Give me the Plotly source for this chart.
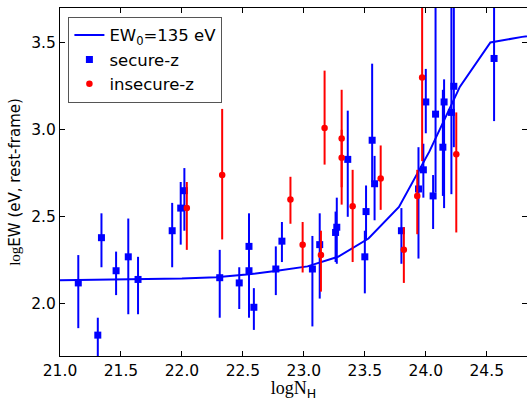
import plotly.graph_objects as go

# Model curve (EW0 = 135 eV)
model_x = [21.0, 21.5, 22.0, 22.28, 22.53, 22.78, 23.03, 23.28, 23.53, 23.78, 24.03, 24.28, 24.53, 24.79, 25.04]
model_y = [2.135, 2.138, 2.145, 2.153, 2.168, 2.19, 2.215, 2.27, 2.375, 2.557, 2.876, 3.248, 3.502, 3.534, 3.56]

# secure-z (blue squares)
sec_x = [21.15, 21.31, 21.34, 21.46, 21.56, 21.64, 21.92, 21.99, 22.02, 22.31,
         22.47, 22.55, 22.55, 22.59, 22.77, 22.82, 23.07, 23.13, 23.26, 23.27,
         23.36, 23.51, 23.50, 23.56, 23.58, 23.80, 23.94, 23.98, 24.00, 24.06,
         24.08, 24.14, 24.15, 24.21, 24.23, 24.56]
sec_y = [2.12, 1.82, 2.38, 2.19, 2.27, 2.14, 2.42, 2.55, 2.65, 2.15,
         2.12, 2.33, 2.19, 1.98, 2.20, 2.36, 2.20, 2.34, 2.41, 2.44,
         2.83, 2.53, 2.27, 2.94, 2.69, 2.42, 2.66, 2.77, 3.16, 2.62,
         3.09, 2.90, 3.16, 3.10, 3.25, 3.41]
sec_up = [0.16, 0.10, 0.14, 0.11, 0.22, 0.13, 0.16, 0.15, 0.13, 0.16,
          0.09, 0.19, 0.14, 0.11, 0.13, 0.11, 0.19, 0.18, 0.12, 0.17,
          0.28, 0.15, 0.15, 0.44, 0.16, 0.13, 0.24, 0.15, 0.19, 0.12,
          0.70, 0.33, 0.13, 0.70, 0.60, 0.45]
sec_lo = [0.26, 0.16, 0.17, 0.14, 0.33, 0.20, 0.21, 0.21, 0.23, 0.23,
          0.15, 0.23, 0.27, 0.13, 0.15, 0.12, 0.33, 0.31, 0.17, 0.21,
          0.33, 0.16, 0.21, 0.24, 0.21, 0.19, 0.40, 0.16, 0.18, 0.19,
          0.45, 0.28, 0.61, 0.47, 0.35, 0.36]

# insecure-z (red circles)
ins_x = [22.04, 22.33, 22.89, 22.99, 23.14, 23.17, 23.31, 23.31, 23.40, 23.63,
         23.82, 23.93, 23.97, 24.25]
ins_y = [2.55, 2.74, 2.60, 2.34, 2.28, 3.01, 2.95, 2.84, 2.56, 2.72,
         2.31, 2.62, 3.30, 2.86]
ins_up = [0.15, 0.38, 0.13, 0.13, 0.14, 0.33, 0.28, 0.16, 0.21, 0.19,
          0.13, 0.15, 0.50, 0.24]
ins_lo = [0.24, 0.37, 0.14, 0.16, 0.21, 0.21, 0.28, 0.27, 0.32, 0.18,
          0.19, 0.22, 0.48, 0.45]

BLUE = "#0000ff"
RED = "#ff0000"

fig = go.Figure()
fig.add_trace(go.Scatter(
    x=model_x, y=model_y, mode="lines",
    line=dict(color=BLUE, width=2),
    name="EW<sub>0</sub>=135 eV"))
fig.add_trace(go.Scatter(
    x=sec_x, y=sec_y, mode="markers",
    marker=dict(symbol="square", size=7, color=BLUE),
    error_y=dict(type="data", symmetric=False, array=sec_up, arrayminus=sec_lo,
                 color=BLUE, thickness=2, width=0),
    name="secure-z"))
fig.add_trace(go.Scatter(
    x=ins_x, y=ins_y, mode="markers",
    marker=dict(symbol="circle", size=6.5, color=RED),
    error_y=dict(type="data", symmetric=False, array=ins_up, arrayminus=ins_lo,
                 color=RED, thickness=2, width=0),
    name="insecure-z"))

axis_common = dict(
    showline=True, linecolor="black", linewidth=1, mirror="ticks",
    ticks="inside", ticklen=5, tickcolor="black", showgrid=False, zeroline=False,
    tickfont=dict(family="DejaVu Sans", size=15.5, color="black"),
)

fig.update_layout(
    width=527, height=401,
    margin=dict(l=60, r=0, t=8, b=45),
    paper_bgcolor="white", plot_bgcolor="white",
    showlegend=True,
    legend=dict(x=0.018, y=0.975, xanchor="left", yanchor="top",
                bordercolor="#555555", borderwidth=1, bgcolor="white",
                font=dict(family="DejaVu Sans", size=16.5, color="black"),
                tracegroupgap=0),
    xaxis=dict(range=[21.0, 24.83], tickvals=[21.0, 21.5, 22.0, 22.5, 23.0, 23.5, 24.0, 24.5],
               tickformat=".1f",
               title=dict(text="<span style='font-family:Liberation Serif'>logN</span><sub>H</sub>",
                          font=dict(family="DejaVu Sans", size=18, color="black"), standoff=4),
               **axis_common),
    yaxis=dict(range=[1.7, 3.7], tickvals=[2.0, 2.5, 3.0, 3.5], tickformat=".1f",
               title=dict(text="<span style='font-family:Liberation Serif'>log</span>EW (eV, rest-frame)",
                          font=dict(family="DejaVu Sans", size=15, color="black"), standoff=6),
               **axis_common),
)

fig.write_html("out.html")
